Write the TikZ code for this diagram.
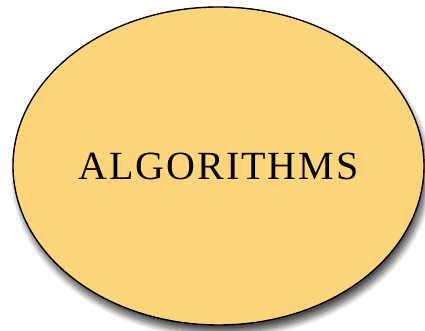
\documentclass[tikz,border=0pt]{standalone}
\usepackage{fontspec}
\usepackage{tikz}
\usetikzlibrary{shapes.geometric,shadows.blur}
\newfontfamily\algofont[LetterSpace=5]{Liberation Serif}
\definecolor{algofill}{RGB}{254,213,122}

\begin{document}
\begin{tikzpicture}[
    x=1pt, y=1pt,
    topic/.style={draw, ellipse, line width=1.4pt, fill=algofill, inner sep=0pt,
        minimum width=411pt, minimum height=318pt,
        font=\algofont\fontsize{40}{44}\selectfont,
        blur shadow={shadow xshift=3pt, shadow yshift=-8pt, shadow blur radius=6pt,
            shadow blur steps=10, shadow opacity=70}}
]
\useasboundingbox (0,0) rectangle (425,331);
\node[topic] (algo) at (218.5,165) {ALGORITHMS};
\end{tikzpicture}
\end{document}
